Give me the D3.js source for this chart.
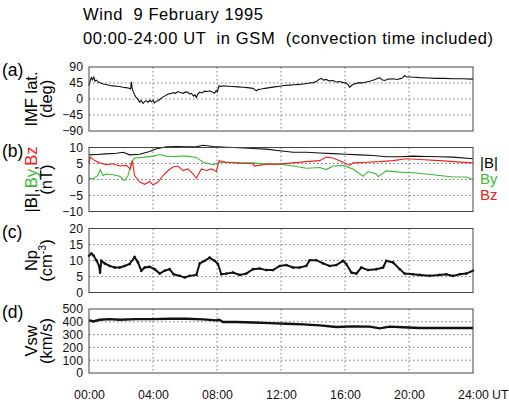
<!DOCTYPE html>
<html><head><meta charset="utf-8">
<script src="https://cdn.jsdelivr.net/npm/d3@7"></script>
<style>body{margin:0;background:#fff}svg{display:block}text{font-family:"Liberation Sans",Arial,Helvetica,sans-serif}</style>
</head><body>
<script>
// ---------- data ----------
const hourTicks = [0, 4, 8, 12, 16, 20, 24];
const hourLabels = ["00:00", "04:00", "08:00", "12:00", "16:00", "20:00", "24:00"];

const imfT = [0,0.08,0.15,0.22,0.3,0.38,0.46,0.6,0.77,0.9,1.08,1.3,1.5,1.7,1.92,2.1,2.33,2.5,2.6,2.65,2.7,2.75,2.85,2.92,3.05,3.17,3.25,3.38,3.5,3.58,3.7,3.8,3.9,4.0,4.1,4.2,4.31,4.45,4.63,4.8,4.94,5.1,5.25,5.4,5.56,5.7,5.88,6.05,6.19,6.3,6.4,6.54,6.62,6.71,6.8,6.92,7.05,7.23,7.4,7.54,7.7,7.85,7.95,8.02,8.13,8.25,8.38,8.7,9,9.3,9.63,9.9,10.25,10.46,10.6,10.77,11,11.29,11.6,11.92,12.2,12.54,12.8,13.17,13.5,13.79,14.0,14.21,14.35,14.52,14.65,14.83,15.0,15.25,15.45,15.67,15.9,16.08,16.2,16.29,16.4,16.5,16.7,16.92,17.1,17.33,17.55,17.75,17.95,18.17,18.3,18.48,18.7,19,19.25,19.52,19.62,19.73,19.85,20.04,20.35,20.67,21.2,21.71,22.2,22.75,23.3,24];
const imfLat = [38,52,60,54,62,50,53,47,44,42,41,38,37,36,35,33,32,30,28,48,30,22,12,6,0,-9,-4,-12,-6,-5,-9,-3,-8,-4,-11,-6,-5,0,6,10,14,15,18,16,21,18,16,20,19,14,16,8,12,4,14,19,17,22,21,23,20,16,24,20,37,35,37,36,35,34,33,32,30,23,27,28,30,32,34,36,38,39,40,41,43,45,46,49,54,58,53,55,51,52,48,49,46,45,40,33,38,41,44,46,45,48,50,53,56,60,54,52,56,57,55,58,60,66,62,62,61,60,59,58,58,57,57,56];

const bT = [0,0.46,1.08,1.71,2.13,2.54,3.17,3.79,4.21,4.83,5.46,6.08,6.71,7.13,7.75,8.58,9.42,10.25,11.08,11.92,12.75,13.58,14.42,15.25,16.08,16.92,17.75,18.58,19.42,20.25,21.08,21.92,22.75,24];
const bMag = [7.7,7.8,8.0,8.2,8.5,7.7,7.9,8.75,9.6,10.2,10.3,10.2,10.2,10.7,10.3,10.1,9.9,9.7,9.5,9.0,8.5,8.5,8.3,8.1,7.9,7.7,7.5,7.1,7.1,7.3,7.2,7.1,7.0,6.5];

const byT = [0,0.25,0.56,0.7,0.88,1.08,1.5,1.92,2.23,2.44,2.65,2.85,3.38,4.0,4.42,4.83,5.25,5.67,6.08,6.71,7.13,7.75,8.17,8.79,9.63,10.25,11.08,11.92,12.75,13.58,14.42,14.83,15.25,15.88,16.5,17.13,17.44,17.96,18.06,18.58,19.42,20.25,21.08,21.92,22.75,23.58,24];
const byVals = [0.4,0.2,1.25,3.1,1.25,1.7,1.5,1.0,-0.4,1.25,5.4,6.7,6.9,7.3,7.8,7.3,7.1,7.3,7.3,6.9,5.4,4.6,5.4,5.4,5.2,5.2,4.8,4.8,4.2,3.5,3.75,3.1,4.2,4.4,3.3,1.0,2.5,1.7,0.9,2.7,2.3,2.1,1.7,1.25,0.8,0.8,0];

const bzT = [0,0.08,0.35,0.67,1.08,1.5,1.92,2.33,2.58,2.71,2.85,3.17,3.48,3.79,4.0,4.31,4.63,4.94,5.25,5.56,5.88,6.19,6.5,6.71,7.02,7.33,7.65,7.96,8.13,8.58,9.42,10.25,10.35,11.08,11.92,12.75,13.58,14.42,14.83,15.25,15.88,16.29,16.5,17.33,18.17,19.0,19.83,20.67,21.92,22.75,24];
const bzVals = [5.2,7.0,5.9,5.2,4.6,4.9,4.2,4.4,3.3,5.9,1.25,-0.8,-1.5,-0.6,-1.7,-0.8,1.25,2.8,3.9,4.2,2.8,3.3,1.8,0.4,3.3,2.8,3.3,2.5,5.9,5.4,5.1,4.9,4.2,4.8,4.8,5.2,5.6,5.9,7.0,6.7,5.4,4.4,5.2,5.4,5.6,5.9,6.5,6.25,5.9,5.6,5.2];

const npT = [0,0.15,0.29,0.46,0.63,0.69,0.77,0.98,1.29,1.6,1.92,2.23,2.54,2.85,3.06,3.27,3.48,3.79,4.1,4.42,4.73,5.04,5.29,5.67,5.98,6.29,6.71,6.92,7.23,7.54,7.85,8.06,8.27,8.58,9,9.42,9.83,10.25,10.67,11.08,11.5,11.92,12.33,12.75,13.17,13.58,13.79,14.21,14.63,15.04,15.46,15.88,16.08,16.4,16.71,17.02,17.44,17.96,18.38,18.58,19,19.42,19.73,20.25,20.67,21.29,21.92,22.33,22.75,23.17,23.58,24];
const npVals = [11.5,12.2,11.5,10.1,8.3,6.2,9.9,9.1,8.3,7.8,7.8,8.3,8.9,11.1,9.4,6.8,7.8,8.0,7.3,5.9,6.8,7.3,5.7,5.2,4.7,5.2,5.5,9.1,9.9,10.9,9.9,8.9,5.7,5.9,6.25,5.5,5.9,7.3,7.5,7.0,7.0,8.3,8.6,7.8,7.8,8.3,10.1,10.1,9.1,8.3,8.6,9.9,8.9,6.25,5.9,7.8,7.0,7.3,7.8,9.9,9.4,7.3,5.9,5.7,5.5,5.2,5.5,5.7,5.2,5.7,5.9,6.8];

const vT = [0,0.25,0.67,1.29,1.92,2.96,4.0,5.04,6.08,7.13,7.96,8.13,8.38,9.21,10.25,11.29,12.33,13.38,14.42,15.46,16.5,17.54,18.17,18.79,19.63,20.67,21.71,22.75,24];
const vsw = [413,403,416,421,416,421,421,424,424,419,411,416,398,398,395,390,385,380,372,359,364,362,349,362,357,351,351,351,351];

const latTicks = [90,45,0,-45,-90];
const bTicks = [10,5,0,-5,-10];
const npTicks = [20,15,10,5,0];
const vTicks = [500,400,300,200,100,0];

// ---------- layout ----------
const W = 509, H = 418;
const X0 = 89, X1 = 473, PH = 64;
const svg = d3.select("body").append("svg").attr("width", W).attr("height", H);
svg.append("rect").attr("width", W).attr("height", H).attr("fill", "#fff");

const x = d3.scaleLinear().domain([0, 24]).range([X0, X1]);
const green = "#3cb93c", red = "#ee2020";
const gridCol = "#777";

// titles
svg.append("text").attr("x", 83).attr("y", 19.5).attr("font-size", 16.5).style("white-space", "pre")
  .attr("textLength", 180).attr("lengthAdjust", "spacing").text("Wind  9 February 1995");
svg.append("text").attr("x", 83).attr("y", 44).attr("font-size", 16.5).style("white-space", "pre")
  .attr("textLength", 410).attr("lengthAdjust", "spacing").text("00:00-24:00 UT  in GSM  (convection time included)");

function panel(top, domain, ticks, letter) {
  const y = d3.scaleLinear().domain(domain).range([top + PH, top]);
  const g = svg.append("g");
  const inner = ticks.filter(t => t !== domain[0] && t !== domain[1]);
  g.selectAll(".hg").data(inner).enter().append("line")
    .attr("x1", X0).attr("x2", X1).attr("y1", d => y(d)).attr("y2", d => y(d))
    .attr("stroke", gridCol).attr("stroke-width", 1).attr("stroke-dasharray", "1.5,2.5");
  g.selectAll(".vg").data(hourTicks.slice(1, -1)).enter().append("line")
    .attr("x1", d => x(d)).attr("x2", d => x(d)).attr("y1", top).attr("y2", top + PH)
    .attr("stroke", gridCol).attr("stroke-width", 1).attr("stroke-dasharray", "1.5,2.5");
  const ax = d3.axisLeft(y).tickValues(ticks).tickSize(0).tickPadding(6);
  const ga = svg.append("g").attr("transform", `translate(${X0},0)`).call(ax);
  ga.select(".domain").remove();
  ga.selectAll("text").attr("font-size", 12.3).attr("font-family", '"Liberation Sans",Arial,sans-serif').attr("fill", "#111");
  svg.append("text").attr("x", 2).attr("y", top + 9).attr("font-size", 17.5).text(letter);
  return {y, g, top};
}

function frame(top) {
  svg.append("rect").attr("x", X0).attr("y", top).attr("width", X1 - X0).attr("height", PH)
    .attr("fill", "none").attr("stroke", "#444").attr("stroke-width", 1);
}

function ylabel(cx, cy, parts, size) {
  const t = svg.append("text").attr("transform", `translate(${cx},${cy}) rotate(-90)`)
    .attr("text-anchor", "middle").attr("font-size", size || 16.5);
  parts.forEach(p => {
    const s = t.append("tspan").text(p.t);
    if (p.c) s.attr("fill", p.c);
    if (p.sup) s.attr("baseline-shift", "super").attr("font-size", 10.5);
  });
  return t;
}

const line = (sx, sy) => d3.line().x(d => x(d[0])).y(d => sy(d[1]));
const zip = (a, b) => a.map((v, i) => [v, b[i]]);

// panel a
const pa = panel(67, [-90, 90], latTicks, "(a)");
svg.append("path").datum(zip(imfT, imfLat)).attr("d", line(x, pa.y)).attr("fill", "none").attr("stroke", "#111").attr("stroke-width", 1.1);
frame(67);
ylabel(36.5, 99, [{t: "IMF lat."}]);
ylabel(52, 99, [{t: "(deg)"}]);

// panel b
const pb = panel(147.5, [-10, 10], bTicks, "(b)");
svg.append("path").datum(zip(byT, byVals)).attr("d", line(x, pb.y)).attr("fill", "none").attr("stroke", green).attr("stroke-width", 1.1);
svg.append("path").datum(zip(bzT, bzVals)).attr("d", line(x, pb.y)).attr("fill", "none").attr("stroke", red).attr("stroke-width", 1.1);
svg.append("path").datum(zip(bT, bMag)).attr("d", line(x, pb.y)).attr("fill", "none").attr("stroke", "#111").attr("stroke-width", 1.1);
frame(147.5);
ylabel(36.5, 179.5, [{t: "|B|,"}, {t: "By", c: green}, {t: ","}, {t: "Bz", c: red}]);
ylabel(52, 179.5, [{t: "(nT)"}]);
svg.append("text").attr("x", 480).attr("y", 168).attr("font-size", 15).text("|B|");
svg.append("text").attr("x", 480).attr("y", 184).attr("font-size", 15).attr("fill", green).text("By");
svg.append("text").attr("x", 480).attr("y", 200).attr("font-size", 15).attr("fill", red).text("Bz");

// panel c
const pc = panel(228.5, [0, 20], npTicks, "(c)");
const npData = zip(npT, npVals);
svg.append("path").datum(npData).attr("d", line(x, pc.y)).attr("fill", "none").attr("stroke", "#111").attr("stroke-width", 2);
svg.selectAll(".npd").data(npData).enter().append("circle")
  .attr("cx", d => x(d[0])).attr("cy", d => pc.y(d[1])).attr("r", 1.3).attr("fill", "#111");
frame(228.5);
ylabel(36.5, 260.5, [{t: "Np"}]);
ylabel(52, 260.5, [{t: "(cm"}, {t: "-3", sup: true}, {t: ")"}]);

// panel d
const pd = panel(309, [0, 500], vTicks, "(d)");
svg.append("path").datum(zip(vT, vsw)).attr("d", line(x, pd.y)).attr("fill", "none").attr("stroke", "#111").attr("stroke-width", 2.4);
frame(309);
ylabel(36.5, 341, [{t: "Vsw"}]);
ylabel(52, 341, [{t: "(km/s)"}]);

// x axis
const xa = d3.axisBottom(x).tickValues(hourTicks).tickFormat((d, i) => hourLabels[i]).tickSize(0).tickPadding(17);
const gx = svg.append("g").attr("transform", `translate(0,${309 + PH})`).call(xa);
gx.select(".domain").remove();
gx.selectAll("text").attr("font-size", 12.3).attr("font-family", '"Liberation Sans",Arial,sans-serif').attr("fill", "#111");
svg.append("text").attr("x", x(24) + 19).attr("y", 399).attr("font-size", 12.3).attr("fill", "#111").text("UT");
</script>
</body></html>
